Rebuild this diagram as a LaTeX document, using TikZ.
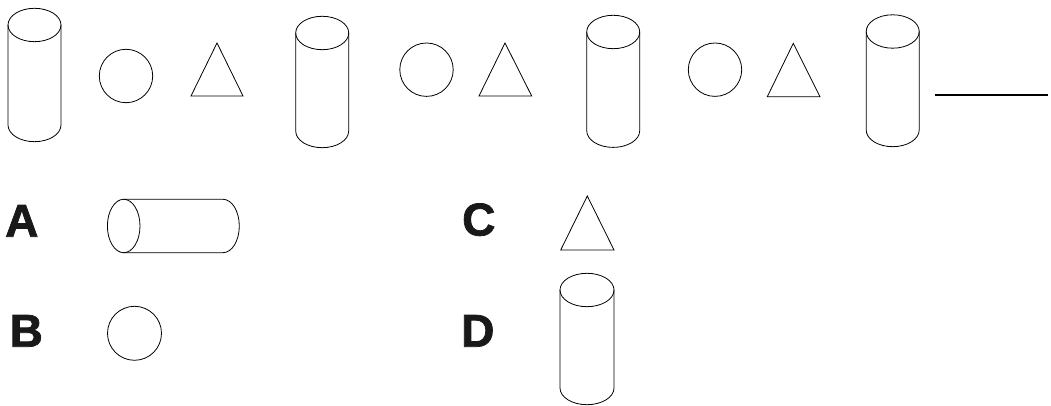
\documentclass[tikz,border=0pt]{standalone}
\usepackage{fontspec}
\newfontfamily\labfont{Liberation Sans}[BoldFeatures={FakeBold=1.6}]
\tikzset{
  shape line/.style={line width=0.8pt, black},
  answer/.style={font=\labfont\bfseries\fontsize{46}{46}\selectfont, inner sep=0pt, anchor=base west, text=black!90},
}
% cylinder: cx, top Y, bottom Y, rx, ry
\newcommand\upcyl[5]{%
  \draw[shape line] (#1,#2) ellipse [x radius=#4pt, y radius=#5pt];
  \draw[shape line] (#1-#4,#2) -- (#1-#4,#3)
     arc[start angle=180, end angle=360, x radius=#4pt, y radius=#5pt] -- (#1+#4,#2);
}
\begin{document}
\begin{tikzpicture}[x=1pt,y=1pt]
\useasboundingbox (0,0) rectangle (1051,406);
% row of the sequence
\upcyl{34.5}{381}{281}{26.5}{16.7}
\draw[shape line] (126,330) circle[radius=26.7pt];
\draw[shape line] (217,363) -- (243,310) -- (191,310) -- cycle;
\upcyl{322.2}{373}{275}{26.5}{16.7}
\draw[shape line] (426.5,336.3) circle[radius=26.7pt];
\draw[shape line] (505,363) -- (531.7,310) -- (479,310) -- cycle;
\upcyl{613.2}{374}{275.3}{26.5}{16.7}
\draw[shape line] (715,336.3) circle[radius=26.7pt];
\draw[shape line] (793.3,362.7) -- (820,309.3) -- (767.3,309.3) -- cycle;
\upcyl{892.7}{374.5}{276}{26.5}{16.7}
\coordinate (blankL) at (935,311);
\coordinate (blankR) at (1048.3,311);
\draw[line width=1.6pt] (blankL) -- (blankR);
% answers
\node[answer] (A) at (5,169.3) {A};
\draw[shape line] (123.7,180) ellipse[x radius=16.3pt, y radius=26.7pt];
\draw[shape line] (123.7,206.7) -- (223,206.7)
   arc[start angle=90, end angle=-90, x radius=16.3pt, y radius=26.7pt] -- (123.7,153.3);
\node[answer] (B) at (9.5,59.3) {B};
\draw[shape line] (134.5,72.7) circle[radius=27pt];
\node[answer] (C) at (462,170.5) {C};
\draw[shape line] (587.3,210) -- (614,156) -- (560.7,156) -- cycle;
\node[answer] (D) at (461,59.3) {D};
\upcyl{587}{116}{18}{27}{16.7}
\end{tikzpicture}
\end{document}
